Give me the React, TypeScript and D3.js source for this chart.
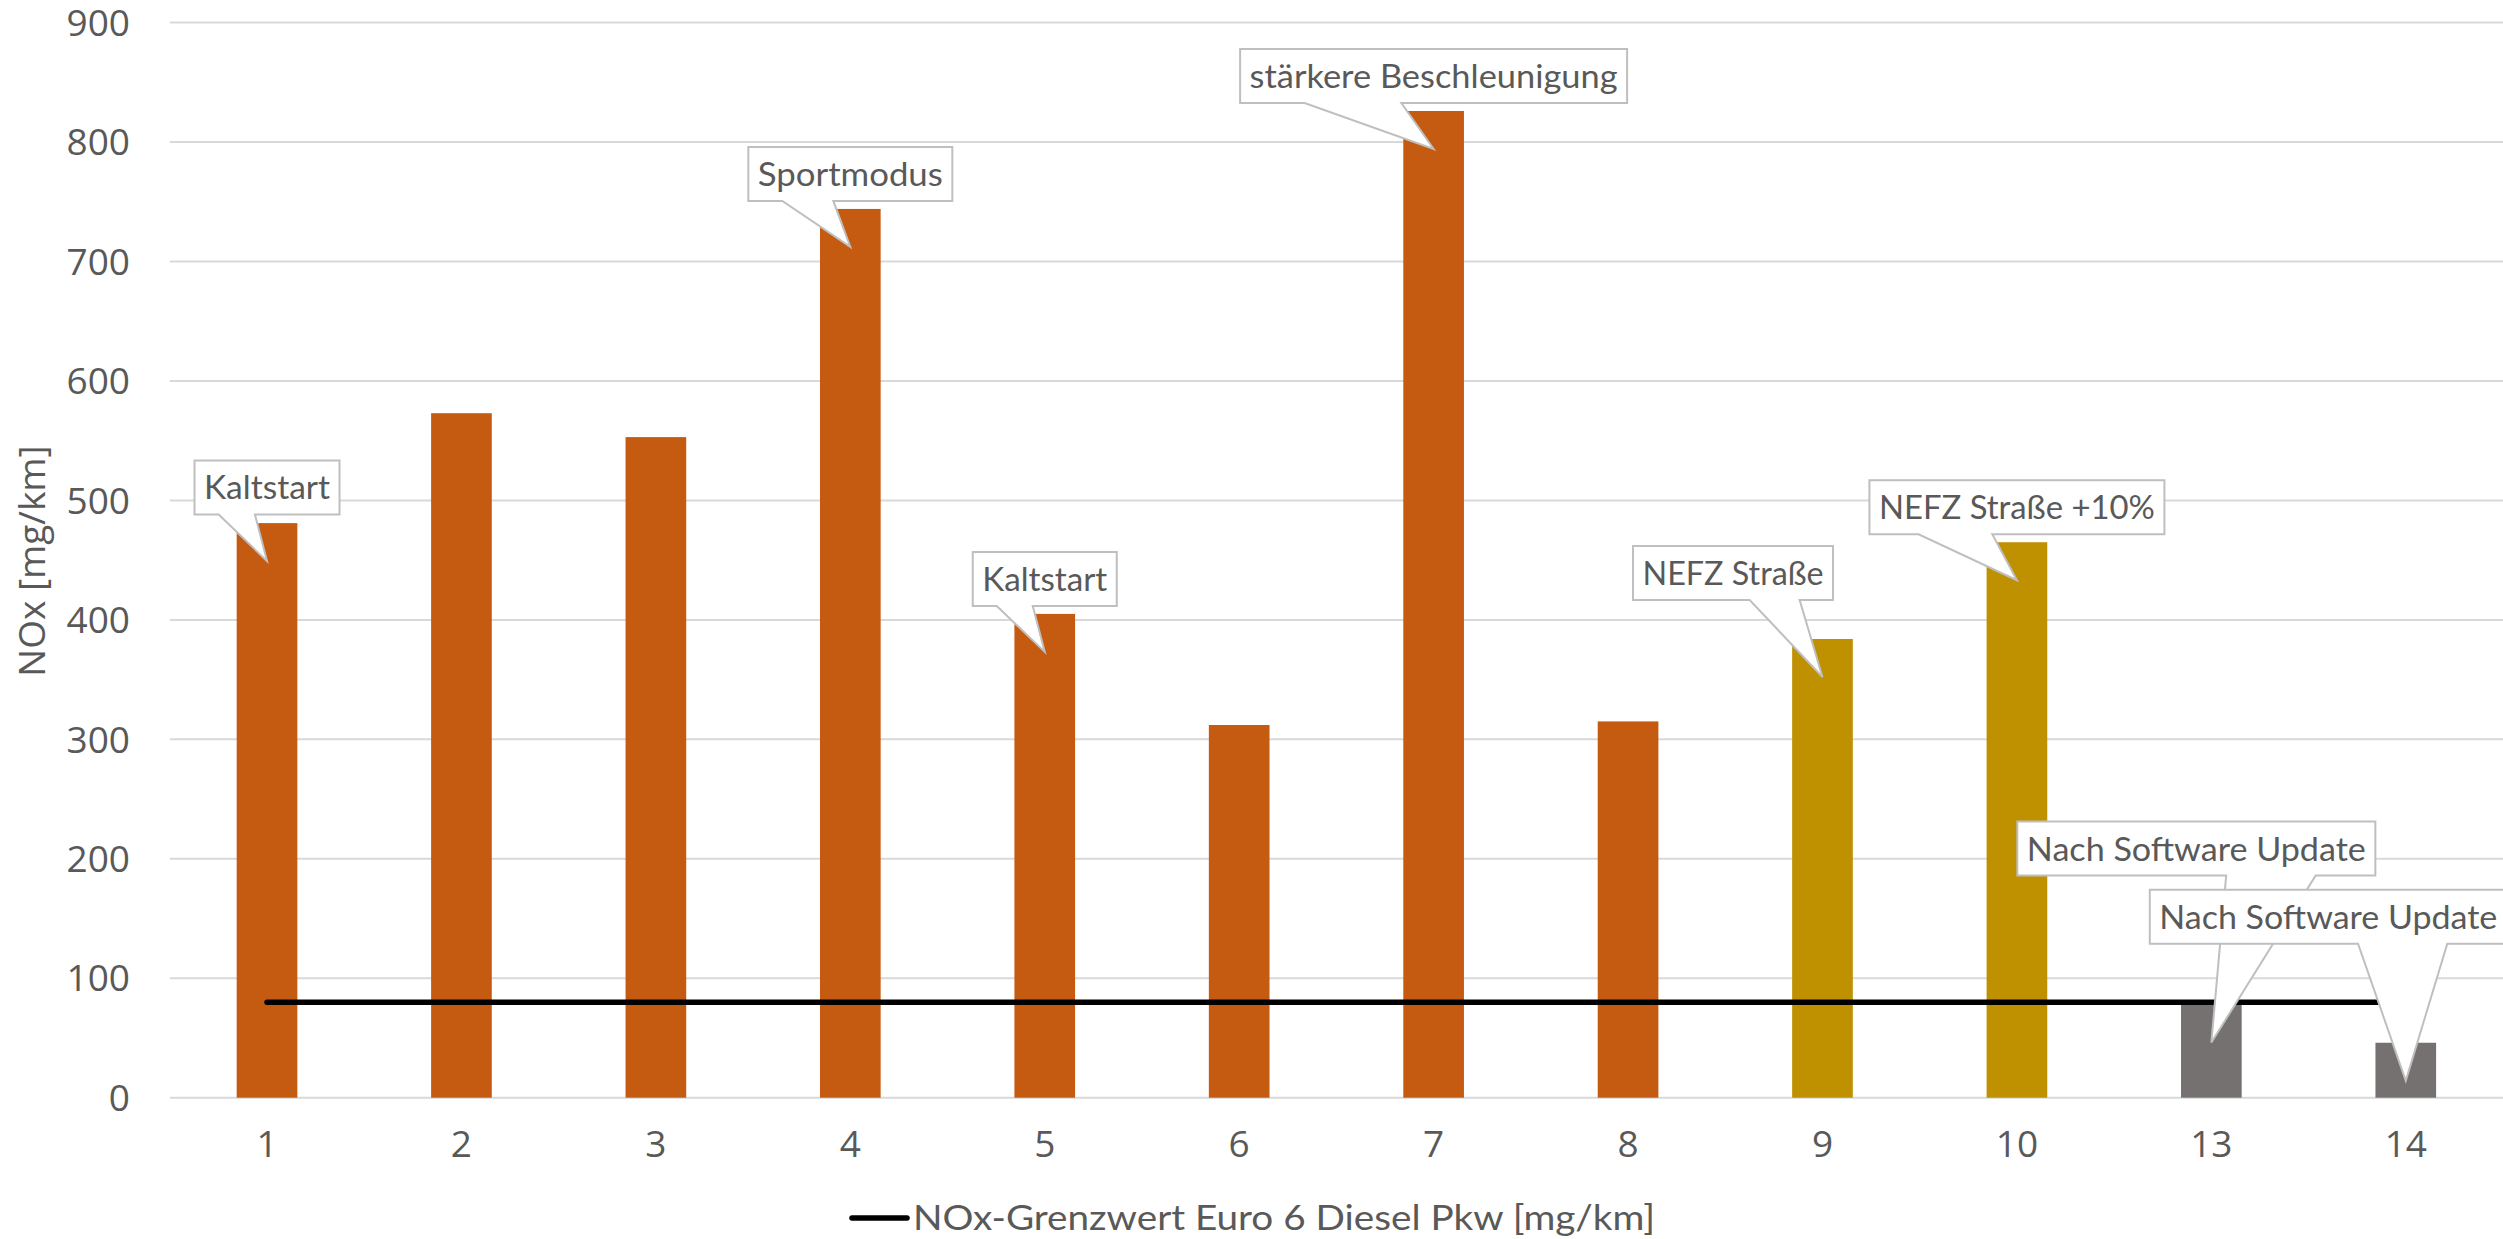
import React from 'react';
import * as d3 from 'd3';

// ---------- data ----------
const categories = ['1', '2', '3', '4', '5', '6', '7', '8', '9', '10', '13', '14'];
const noxValues = [481, 573, 553, 744, 405, 312, 826, 315, 384, 465, 78, 46];
const barGroups = ['rde', 'rde', 'rde', 'rde', 'rde', 'rde', 'rde', 'rde', 'nefz', 'nefz', 'update', 'update'];
const limitValues = [80, 80, 80, 80, 80, 80, 80, 80, 80, 80, 80, 80];
const calloutLabels = [
  'Kaltstart', null, null, 'Sportmodus', 'Kaltstart', null,
  'stärkere Beschleunigung', null, 'NEFZ Straße', 'NEFZ Straße +10%',
  'Nach Software Update', 'Nach Software Update',
];
const yTicks = [0, 100, 200, 300, 400, 500, 600, 700, 800, 900];
const yTitle = 'NOx [mg/km]';
const legendLabel = 'NOx-Grenzwert Euro 6 Diesel Pkw [mg/km]';

// ---------- layout / style ----------
const W = 2503;
const H = 1239;
const groupColor: Record<string, string> = { rde: '#C55A11', nefz: '#BF9000', update: '#767171' };
const textColor = '#595959';
const tickFont = '"Open Sans", "Segoe UI", sans-serif';
const labelFont = 'Lato, Calibri, sans-serif';

// callout placement: dx of box centre vs bar centre, gap between box bottom and bar top, text width
const calloutLayout: Record<number, { dx: number; gap: number; tw: number }> = {
  0: { dx: 0, gap: 8.7, tw: 126 },
  3: { dx: 0, gap: 8, tw: 185 },
  4: { dx: 0, gap: 8, tw: 125 },
  6: { dx: 0, gap: 8, tw: 368 },
  8: { dx: -89.5, gap: 39, tw: 181 },
  9: { dx: 0, gap: 8, tw: 276 },
  10: { dx: -15, gap: 129, tw: 339 },
  11: { dx: -77.5, gap: 99, tw: 338 },
};

export default function App() {
  const x = d3.scaleBand<string>()
    .domain(categories)
    .range([169.8, 2503])
    .paddingInner(0.688)
    .paddingOuter(0.344);
  const y = d3.scaleLinear().domain([0, 900]).range([1097.7, 22.6]);
  const cx = (c: string) => (x(c) as number) + x.bandwidth() / 2;

  const lineGen = d3.line<number>()
    .x((_, i) => cx(categories[i]))
    .y((d) => y(d));

  const callouts = calloutLabels.map((label, i) => {
    if (!label) return null;
    const lay = calloutLayout[i];
    const bx = cx(categories[i]);
    const top = y(noxValues[i]);
    const tipX = bx;
    const tipY = top + 38;
    const w = lay.tw + 19;
    const h = 54;
    const boxCx = bx + lay.dx;
    const l = boxCx - w / 2;
    const r = boxCx + w / 2;
    const b = top - lay.gap;
    const t = b - h;
    const x1 = tipX > boxCx ? l + (w * 7) / 12 : l + (w * 2) / 12;
    const x2 = tipX > boxCx ? l + (w * 10) / 12 : l + (w * 5) / 12;
    const path = `M${l},${t}H${r}V${b}H${x2}L${tipX},${tipY}L${x1},${b}H${l}Z`;
    return (
      <g key={'c' + i}>
        <path d={path} fill="#FFFFFF" stroke="#BFBFBF" strokeWidth={2} strokeLinejoin="miter" />
        <text
          x={boxCx}
          y={(t + b) / 2 + 12}
          textAnchor="middle"
          fontFamily={labelFont}
          fontSize={33}
          fill={textColor}
          textLength={lay.tw}
          lengthAdjust="spacingAndGlyphs"
        >
          {label}
        </text>
      </g>
    );
  });

  return (
    <svg
      width={W}
      height={H}
      style={{ position: 'absolute', left: 0, top: 0, display: 'block', background: '#fff' }}
    >
      {/* gridlines */}
      {yTicks.map((v) => (
        <line key={'g' + v} x1={169.8} x2={W} y1={y(v)} y2={y(v)} stroke="#D9D9D9" strokeWidth={2} />
      ))}
      {/* y tick labels */}
      {yTicks.map((v) => (
        <text
          key={'yt' + v}
          x={130}
          y={y(v) + 13.2}
          textAnchor="end"
          fontFamily={tickFont}
          fontSize={37}
          fill={textColor}
        >
          {v}
        </text>
      ))}
      {/* y title */}
      <text
        transform={`translate(45,561) rotate(-90)`}
        textAnchor="middle"
        fontFamily={tickFont}
        fontSize={37}
        fill={textColor}
      >
        {yTitle}
      </text>
      {/* bars */}
      {noxValues.map((v, i) => (
        <rect
          key={'b' + i}
          x={x(categories[i])}
          y={y(v)}
          width={x.bandwidth()}
          height={y(0) - y(v)}
          fill={groupColor[barGroups[i]]}
        />
      ))}
      {/* limit line */}
      <path
        d={lineGen(limitValues) as string}
        fill="none"
        stroke="#000000"
        strokeWidth={5.5}
        strokeLinecap="round"
      />
      {/* x labels */}
      {categories.map((c) => (
        <text
          key={'xl' + c}
          x={cx(c)}
          y={1157}
          textAnchor="middle"
          fontFamily={tickFont}
          fontSize={37}
          fill={textColor}
        >
          {c}
        </text>
      ))}
      {/* callouts */}
      {callouts}
      {/* legend */}
      <line x1={852} x2={907} y1={1218} y2={1218} stroke="#000" strokeWidth={5.5} strokeLinecap="round" />
      <text
        x={913}
        y={1230}
        fontFamily={labelFont}
        fontSize={35}
        fill={textColor}
        textLength={742}
        lengthAdjust="spacingAndGlyphs"
      >
        {legendLabel}
      </text>
    </svg>
  );
}
